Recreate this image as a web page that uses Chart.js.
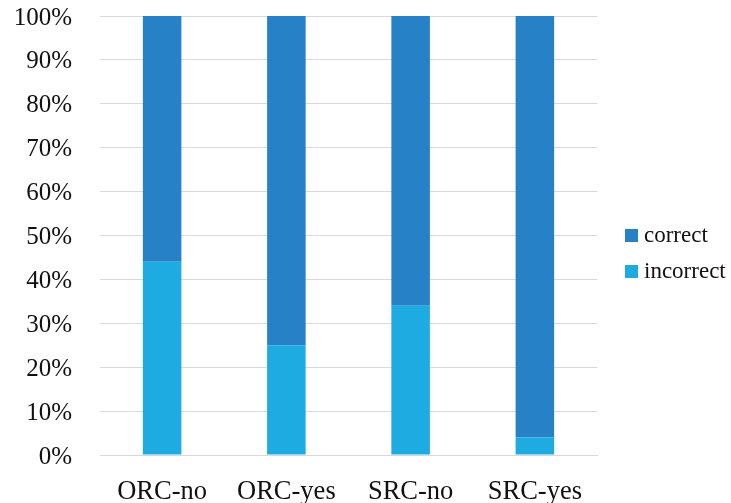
<!DOCTYPE html>
<html>
<head>
<meta charset="utf-8">
<script src="https://cdn.jsdelivr.net/npm/chart.js@4/dist/chart.umd.min.js"></script>
<style>
  html, body { margin: 0; padding: 0; background: #ffffff; }
  #wrap { position: relative; width: 731px; height: 503px; }
  #legend { position: absolute; left: 625px; top: 217px; margin: 0; padding: 0; list-style: none;
            font-family: 'Liberation Serif', 'Times New Roman', serif; font-size: 23px; color: #111; }
  #legend li { display: flex; align-items: center; height: 36px; white-space: nowrap; }
  #legend .sw { display: inline-block; width: 13px; height: 13px; margin-right: 6px; }
</style>
</head>
<body>
<div id="wrap">
  <canvas id="chart" width="731" height="503"></canvas>
  <ul id="legend"></ul>
</div>
<script>
// Share of answers per condition (percent)
const categories = ['ORC-no', 'ORC-yes', 'SRC-no', 'SRC-yes'];
const incorrect = [44, 25, 34, 4];
const correct = [56, 75, 66, 96];
const yTicks = [0, 10, 20, 30, 40, 50, 60, 70, 80, 90, 100];

const serif = "'Liberation Serif', 'Times New Roman', serif";

const chart = new Chart(document.getElementById('chart'), {
  type: 'bar',
  data: {
    labels: categories,
    datasets: [
      { label: 'incorrect', data: incorrect, backgroundColor: '#1DABE2',
        categoryPercentage: 1, barPercentage: 0.31 },
      { label: 'correct', data: correct, backgroundColor: '#2681C7',
        categoryPercentage: 1, barPercentage: 0.31 }
    ]
  },
  options: {
    responsive: false,
    animation: false,
    layout: { padding: { top: 0, right: 134, left: 0, bottom: 0 } },
    plugins: {
      tooltip: { enabled: false },
      legend: { display: false }
    },
    scales: {
      x: {
        stacked: true,
        afterFit: (axis) => { axis.height = 48; },
        grid: { display: false, drawTicks: false },
        border: { display: true, color: '#d9d9d9', width: 1 },
        ticks: { color: '#111111', padding: 21, font: { family: serif, size: 26.5 } }
      },
      y: {
        stacked: true,
        min: 0,
        max: 100,
        afterBuildTicks: (axis) => { axis.ticks = yTicks.map(v => ({ value: v })); },
        afterFit: (axis) => { axis.width = 100; },
        grid: { color: '#d9d9d9', lineWidth: 1, drawTicks: true, tickLength: 27, tickColor: 'rgba(0,0,0,0)' },
        border: { display: false },
        ticks: {
          color: '#111111',
          padding: 1,
          labelOffset: 2,
          font: { family: serif, size: 25 },
          callback: (v) => v + '%'
        }
      }
    }
  }
});

// Legend: top-most stack segment first
const legend = document.getElementById('legend');
chart.data.datasets.slice().reverse().forEach((ds) => {
  const li = document.createElement('li');
  const sw = document.createElement('span');
  sw.className = 'sw';
  sw.style.background = ds.backgroundColor;
  li.appendChild(sw);
  li.appendChild(document.createTextNode(ds.label));
  legend.appendChild(li);
});
</script>
</body>
</html>
